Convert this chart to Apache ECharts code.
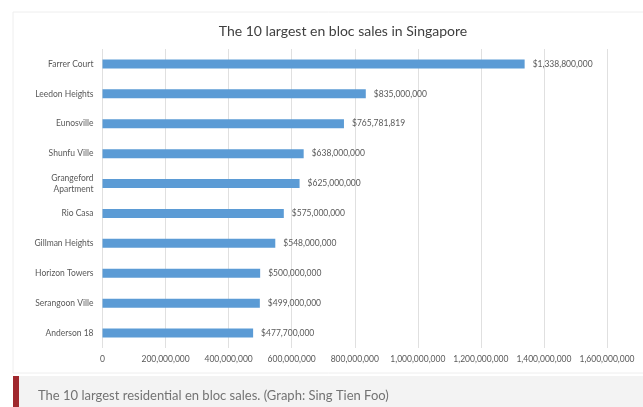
<!DOCTYPE html>
<html><head><meta charset="utf-8">
<script src="https://cdn.jsdelivr.net/npm/echarts@6/dist/echarts.min.js"></script>
<style>html,body{margin:0;padding:0;background:#fff;}#c{width:643px;height:407px;}</style>
</head><body><div id="c"></div>
<script>
const categories = ["Farrer Court","Leedon Heights","Eunosville","Shunfu Ville","Grangeford\nApartment","Rio Casa","Gillman Heights","Horizon Towers","Serangoon Ville","Anderson 18"];
const values = [1338800000,835000000,765781819,638000000,625000000,575000000,548000000,500000000,499000000,477700000];
const titleText = "The 10 largest en bloc sales in Singapore";
const captionText = "The 10 largest residential en bloc sales. (Graph: Sing Tien Foo)";
const fmt = v => v.toLocaleString('en-US');

const chart = echarts.init(document.getElementById('c'), null, {renderer:'canvas'});
chart.setOption({
  animation:false,
  backgroundColor:'#fff',
  title:{text:titleText,left:338,textAlign:'center',top:19,textStyle:{fontFamily:'Lato',fontSize:14,fontWeight:'normal',color:'#404040'}},
  grid:{left:102.5,right:36,top:49,bottom:59,containLabel:false},
  xAxis:{type:'value',min:0,max:1600000000,interval:200000000,
    axisLine:{show:false},axisTick:{show:false},
    splitLine:{lineStyle:{color:'#e0e0e0',width:1}},
    axisLabel:{formatter:v=>fmt(v),fontFamily:'Lato',fontSize:8.5,color:'#595959',margin:7}},
  yAxis:{type:'category',data:categories,inverse:true,
    axisLine:{show:false},axisTick:{show:false},
    axisLabel:{fontFamily:'Lato',fontSize:8.5,color:'#595959',margin:9,lineHeight:11}},
  series:[{type:'bar',data:values,barWidth:9,itemStyle:{color:'#5b9bd5'},
    label:{show:true,position:'right',distance:8,formatter:p=>'$'+fmt(p.value),fontFamily:'Lato',fontSize:8.5,color:'#595959'}}],
  graphic:[
    {type:'rect',shape:{x:13,y:12,width:640,height:361},style:{fill:'none',stroke:'#eeeeee',lineWidth:1},z:-1},
    {type:'rect',shape:{x:13,y:376,width:640,height:31},style:{fill:'#f3f3f3'},z:-1},
    {type:'rect',shape:{x:13,y:376,width:6,height:31},style:{fill:'#a0282d'}},
    {type:'text',left:38,top:389,style:{text:captionText,fontFamily:'Lato',fontSize:13,fill:'#737373'}}
  ]
});
</script></body></html>
